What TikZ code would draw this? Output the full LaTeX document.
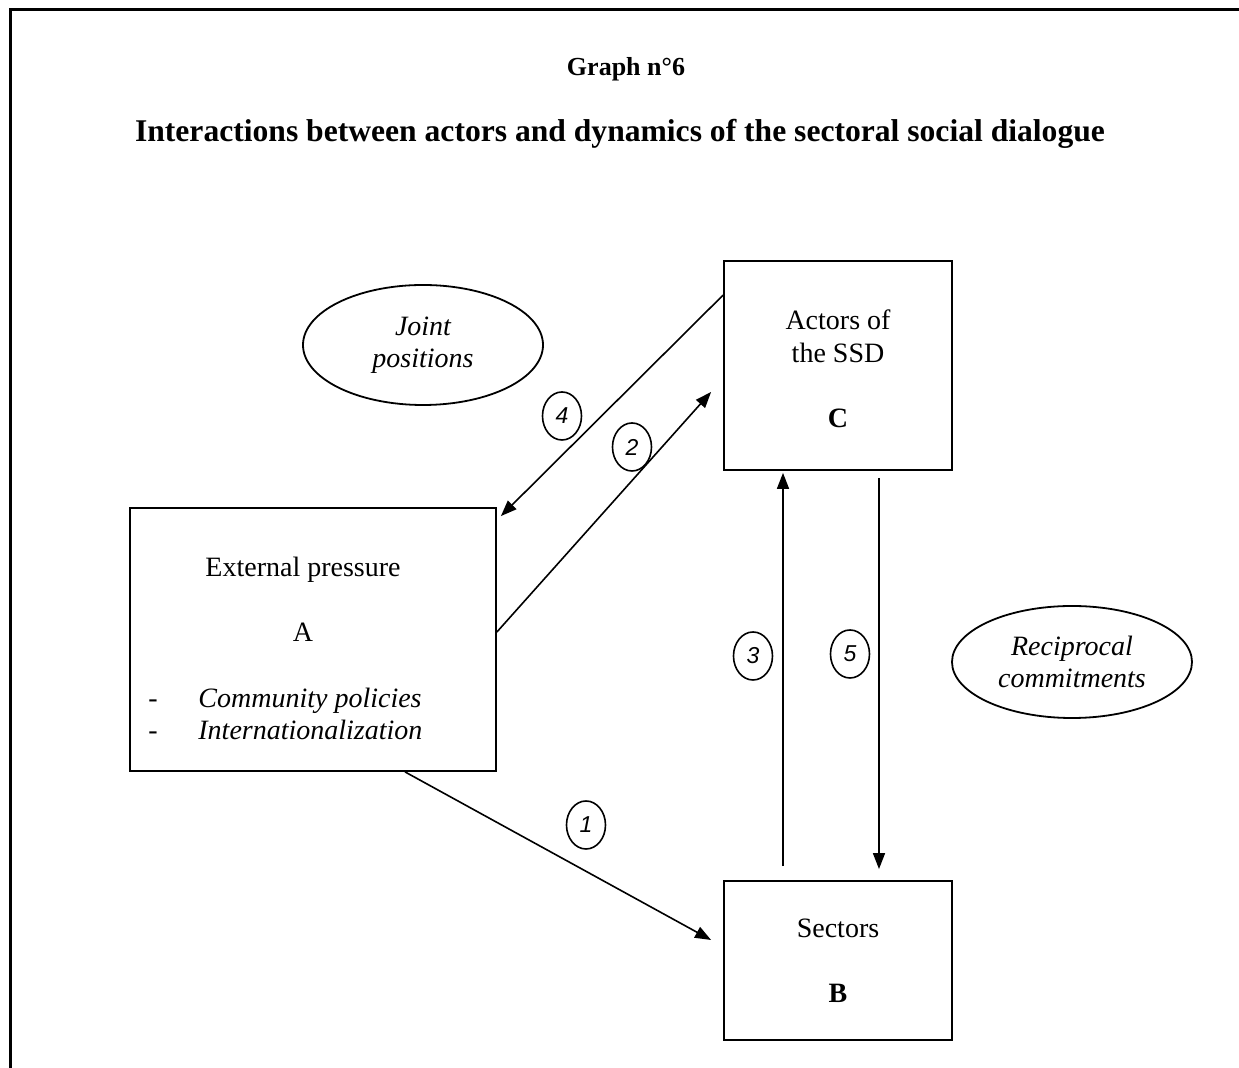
\documentclass[tikz,border=0pt]{standalone}
\usepackage{fontspec}
\setmainfont{Liberation Serif}
\newfontfamily\numfont{Liberation Sans}
\usetikzlibrary{arrows.meta, shapes.geometric}

\newcommand{\bodysize}{\fontsize{14pt}{16pt}\selectfont}

\begin{document}
\begin{tikzpicture}[x=0.5pt, y=-0.5pt, >={Triangle[length=8pt, width=6pt]},
    box/.style={draw, line width=0.9pt, inner sep=0pt},
    bubble/.style={draw, ellipse, line width=0.9pt, inner sep=0pt, align=center,
        font=\bodysize\itshape},
    num/.style={draw, ellipse, line width=0.8pt, inner sep=0pt, minimum width=19.5pt,
        minimum height=24pt, font=\numfont\itshape\fontsize{11.5pt}{13pt}\selectfont},
    txt/.style={anchor=base, inner sep=0pt, font=\bodysize},
    link/.style={->, line width=0.8pt}]
    \useasboundingbox (0,0) rectangle (1239,1068);
    \draw[line width=1.5pt] (1239,10) -- (10,10) -- (10,1068);

    \node[anchor=base, font=\bfseries\fontsize{13pt}{15pt}\selectfont] (graph) at (626,76) {Graph n°6};
    \node[anchor=base, font=\bfseries\fontsize{15.8pt}{18pt}\selectfont] (title) at (620,142)
        {Interactions between actors and dynamics of the sectoral social dialogue};

    % the three boxes
    \node[box, minimum width=183pt, minimum height=131.5pt] (A) at (313,639.5) {};
    \node[box, minimum width=114pt, minimum height=79.5pt] (B) at (838,960.5) {};
    \node[box, minimum width=114pt, minimum height=104.5pt] (C) at (838,365.5) {};

    \node[txt] (Aname) at (303,577) {External pressure};
    \node[txt] (Aletter) at (303,642) {A};
    \node[txt] (Adash1) at (153,708) {-};
    \node[txt] (Adash2) at (153,740) {-};
    \node[txt, anchor=base west, font=\bodysize\itshape] (Apol) at (198,708) {Community policies};
    \node[txt, anchor=base west, font=\bodysize\itshape] (Aint) at (198,740) {Internationalization};

    \node[txt] (Bname) at (838,938) {Sectors};
    \node[txt, font=\bodysize\bfseries] (Bletter) at (838,1003) {B};

    \node[txt] (Cname1) at (838,330) {Actors of};
    \node[txt] (Cname2) at (838,363) {the SSD};
    \node[txt, font=\bodysize\bfseries] (Cletter) at (838,428) {C};

    % ellipses
    \node[bubble, minimum width=120pt, minimum height=60pt] (J) at (423,345) {Joint\\positions};
    \node[bubble, minimum width=120pt, minimum height=56pt] (R) at (1072,662) {Reciprocal\\commitments};

    % numbered steps
    \node[num] (n1) at (586,825) {1};
    \node[num] (n2) at (632,447) {2};
    \node[num] (n3) at (753,656) {3};
    \node[num] (n4) at (562,416) {4};
    \node[num] (n5) at (850,654) {5};

    \draw[link] ([xshift=46pt]A.south) -- ([xshift=-6pt, yshift=10.25pt]B.west);
    \draw[link] ([yshift=3.75pt]A.east) -- ([xshift=-6pt, yshift=-13.25pt]C.west);
    \draw[link] ([xshift=-27.5pt, yshift=7pt]B.north) -- ([xshift=-27.5pt, yshift=-1pt]C.south);
    \draw[link] ([yshift=-17.5pt]C.north west) -- ([xshift=2pt, yshift=-4.5pt]A.north east);
    \draw[link] ([xshift=20.5pt, yshift=-3.5pt]C.south) -- ([xshift=20.5pt, yshift=5.5pt]B.north);
\end{tikzpicture}
\end{document}
